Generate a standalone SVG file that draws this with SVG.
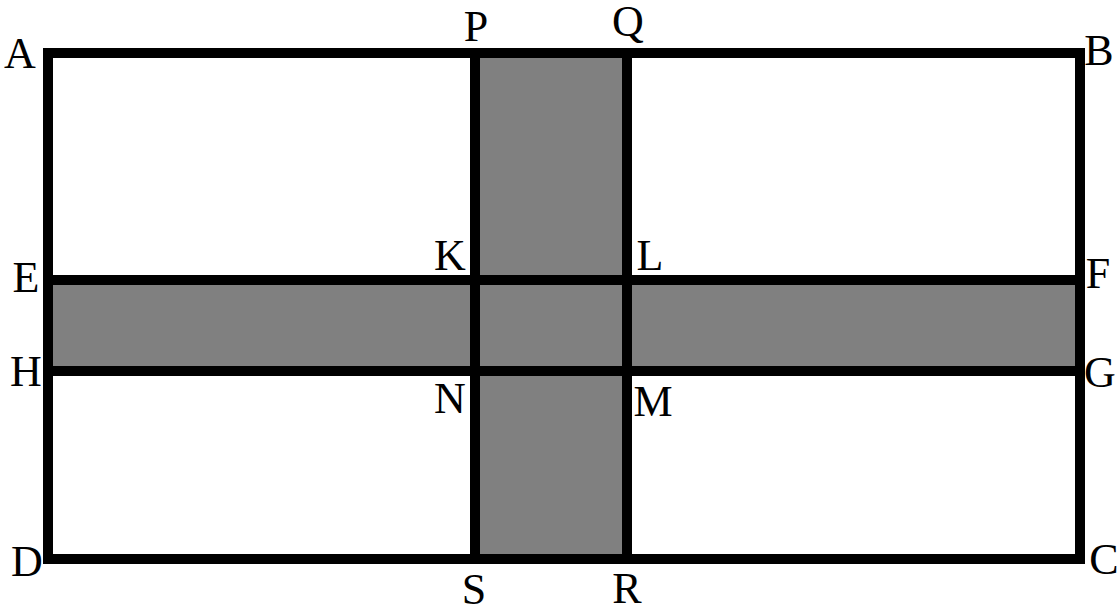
<svg xmlns="http://www.w3.org/2000/svg" width="1118" height="611" viewBox="0 0 1118 611">
<style>
.fill{fill:#808080;stroke:none}
.ln{stroke:#000;stroke-width:10;fill:none}
.lb{font-family:"Liberation Serif","DejaVu Serif",serif;font-size:44px;fill:#000;text-anchor:middle}
</style>
<rect width="1118" height="611" fill="#fff"/>
<g id="shading">
<rect class="fill" x="475" y="53" width="152" height="506"/>
<rect class="fill" x="48" y="280" width="1032" height="91"/>
</g>
<g id="lines">
<rect class="ln" x="48" y="53" width="1032" height="506"/>
<line class="ln" x1="475" y1="53" x2="475" y2="559"/>
<line class="ln" x1="627" y1="53" x2="627" y2="559"/>
<line class="ln" x1="48" y1="280" x2="1080" y2="280"/>
<line class="ln" x1="48" y1="371" x2="1080" y2="371"/>
</g>
<g id="labels">
<text class="lb" x="20" y="68">A</text>
<text class="lb" x="1099" y="65">B</text>
<text class="lb" x="1104" y="574">C</text>
<text class="lb" x="27" y="576">D</text>
<text class="lb" x="26" y="292">E</text>
<text class="lb" x="1098" y="288">F</text>
<text class="lb" x="1100" y="387">G</text>
<text class="lb" x="26" y="386">H</text>
<text class="lb" x="450" y="270">K</text>
<text class="lb" x="650" y="270">L</text>
<text class="lb" x="653" y="416">M</text>
<text class="lb" x="450" y="413">N</text>
<text class="lb" x="476" y="41">P</text>
<text class="lb" x="628" y="36">Q</text>
<text class="lb" x="627" y="603">R</text>
<text class="lb" x="474" y="604">S</text>
</g>
</svg>
